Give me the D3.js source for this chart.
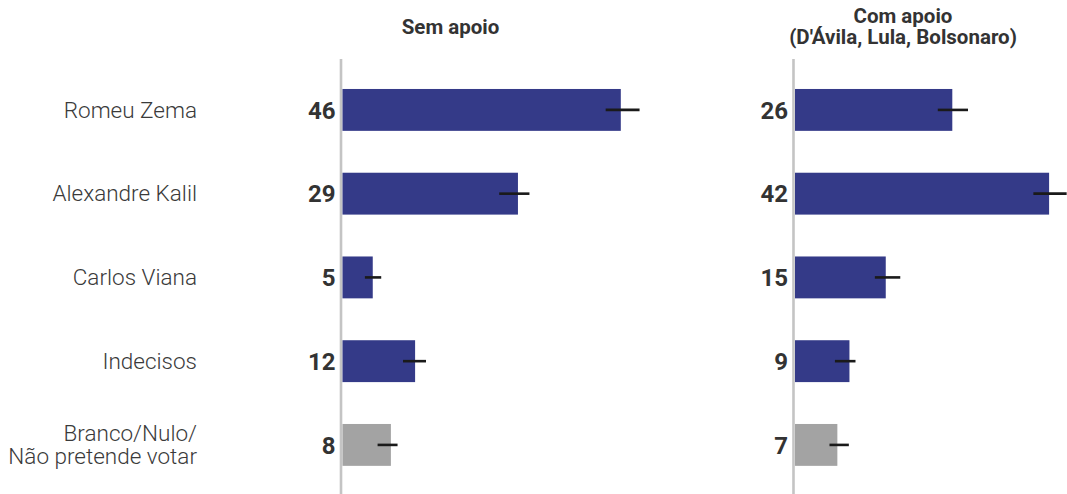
<!DOCTYPE html>
<html>
<head>
<meta charset="utf-8">
<script src="https://cdn.jsdelivr.net/npm/d3@7"></script>
<style>
  html, body { margin: 0; padding: 0; background: #fff; }
  svg { display: block; font-family: Roboto, "Noto Sans", sans-serif; }
</style>
</head>
<body>
<svg id="chart" width="1067" height="494"></svg>
<script>
const categories = ["Romeu Zema", "Alexandre Kalil", "Carlos Viana", "Indecisos", "Branco/Nulo/\nNão pretende votar"];
const barColors = ["#343a88", "#343a88", "#343a88", "#343a88", "#a3a3a3"];
const semApoio = [46, 29, 5, 12, 8];
const semLow = [43.5, 25.9, 3.7, 10.0, 5.8];
const semHigh = [49.1, 30.9, 6.4, 13.8, 9.1];
const comApoio = [26, 42, 15, 9, 7];
const comLow = [23.6, 39.4, 13.2, 6.6, 5.7];
const comHigh = [28.6, 44.9, 17.4, 10.0, 8.9];
const semTitle = ["Sem apoio"];
const comTitle = ["Com apoio", "(D'Ávila, Lula, Bolsonaro)"];

const panels = [
  { title: semTitle, values: semApoio, low: semLow, high: semHigh, x0: 342.5 },
  { title: comTitle, values: comApoio, low: comLow, high: comHigh, x0: 795 }
];

const svg = d3.select("#chart");

const y = d3.scaleBand()
  .domain(categories)
  .range([47.1, 47.1 + 83.75 * 5.5])
  .paddingInner(0.5)
  .paddingOuter(0.5);

const x = d3.scaleLinear().domain([0, 50]).range([0, 302.5]);

// Category labels
const catG = svg.append("g");
categories.forEach((c, i) => {
  const lines = c.split("\n");
  const cy = y(c) + y.bandwidth() / 2;
  const lh = 23.5;
  const t = catG.append("text")
    .attr("x", 197)
    .attr("text-anchor", "end")
    .attr("font-size", 22.5)
    .attr("font-weight", 300)
    .attr("fill", "#3a3a3a");
  lines.forEach((l, j) => {
    t.append("tspan")
      .attr("x", 197)
      .attr("y", cy + (j - (lines.length - 1) / 2) * lh)
      .attr("dy", "0.34em")
      .text(l);
  });
});

panels.forEach(p => {
  const g = svg.append("g").attr("transform", `translate(${p.x0},0)`);

  // title
  const tt = g.append("text")
    .attr("x", 108)
    .attr("text-anchor", "middle")
    .attr("font-size", 20.5)
    .attr("font-weight", 700)
    .attr("fill", "#333");
  const n = p.title.length;
  p.title.forEach((l, j) => {
    tt.append("tspan")
      .attr("x", 108)
      .attr("y", 26.5 + (j - (n - 1) / 2) * 20.5)
      .attr("dy", "0.35em")
      .text(l);
  });

  // axis line
  g.append("line")
    .attr("x1", -1.5).attr("x2", -1.5)
    .attr("y1", 59).attr("y2", 494)
    .attr("stroke", "#c4c4c4")
    .attr("stroke-width", 2.6);

  // bars
  g.selectAll("rect.bar")
    .data(categories)
    .join("rect")
    .attr("class", "bar")
    .attr("x", x(0))
    .attr("y", d => y(d))
    .attr("height", y.bandwidth())
    .attr("width", (d, i) => x(p.values[i]) - x(0))
    .attr("fill", (d, i) => barColors[i]);

  // error bars
  g.selectAll("line.err")
    .data(categories)
    .join("line")
    .attr("class", "err")
    .attr("x1", (d, i) => x(p.low[i]))
    .attr("x2", (d, i) => x(p.high[i]))
    .attr("y1", d => y(d) + y.bandwidth() / 2)
    .attr("y2", d => y(d) + y.bandwidth() / 2)
    .attr("stroke", "#1a1a1a")
    .attr("stroke-width", 2.6);

  // value labels
  g.selectAll("text.val")
    .data(categories)
    .join("text")
    .attr("class", "val")
    .attr("x", -7)
    .attr("y", d => y(d) + y.bandwidth() / 2)
    .attr("dy", "0.36em")
    .attr("text-anchor", "end")
    .attr("font-size", 24)
    .attr("font-weight", 700)
    .attr("fill", "#333")
    .text((d, i) => p.values[i]);
});
</script>
</body>
</html>
